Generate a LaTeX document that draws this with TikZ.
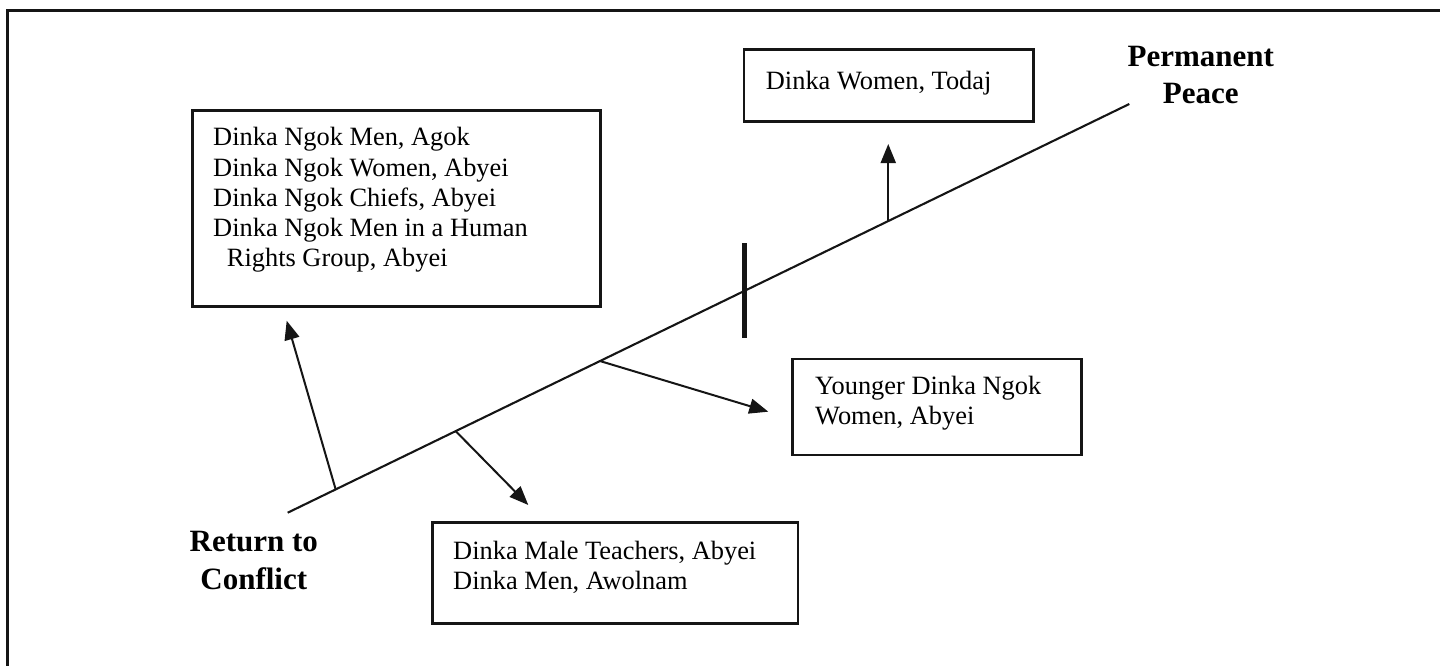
\documentclass[tikz,border=0pt]{standalone}
\usepackage{fontspec}
\setmainfont{Liberation Serif}
\usetikzlibrary{arrows.meta,calc}
\definecolor{ink}{HTML}{151515}
\begin{document}
\begin{tikzpicture}[x=1pt,y=-1pt,
  boxn/.style={draw=ink,line width=2.6pt,anchor=north west,inner sep=0pt,outer sep=0pt},
  txt/.style={anchor=base west,inner sep=0pt,font=\fontsize{26.4}{30}\selectfont},
  lbl/.style={anchor=base,inner sep=0pt,font=\fontsize{31}{37}\selectfont\bfseries},
  axis/.style={draw=ink,line width=2.1pt},
  arr/.style={draw=ink,line width=2pt,-{Triangle[length=19pt,width=15pt]}},
  bar/.style={draw=ink,line width=5.5pt}]
\useasboundingbox (0,0) rectangle (1440,666);
% outer frame (partly visible)
\draw[ink,line width=2.2pt] (7.5,666) -- (7.5,10.5) -- (1440,10.5);

% main line
\coordinate (cS) at (287.7,512.7);
\coordinate (cE) at (1129.3,104);
\draw[axis] (cS) -- (cE);

% points on the line
\coordinate (p1) at ($(cS)!0.0570!(cE)$);
\coordinate (p2) at ($(cS)!0.1996!(cE)$);
\coordinate (p3) at ($(cS)!0.3711!(cE)$);
\coordinate (pb) at ($(cS)!0.5425!(cE)$);
\coordinate (p4) at ($(cS)!0.7136!(cE)$);

% tips
\coordinate (t1) at (286.7,320.7);
\coordinate (t2) at (528.3,505);
\coordinate (t3) at (768.3,411.7);
\coordinate (t4) at ($(p4|-0,144)$);

\draw[arr] (p1) -- (t1);
\draw[arr] (p2) -- (t2);
\draw[arr] (p3) -- (t3);
\draw[arr] (p4) -- (t4);

% thick bar
\coordinate (bt) at ($(pb|-0,243.3)$);
\coordinate (bb) at ($(pb|-0,338.3)$);
\draw[bar] (bt) -- (bb);

% boxes
\node[boxn,minimum width=408pt,minimum height=196pt] (b1) at (192.7,110.7) {};
\node[boxn,minimum width=289.3pt,minimum height=72.4pt] (b2) at (744,49.3) {};
\node[boxn,minimum width=289.4pt,minimum height=96pt] (b3) at (792.3,359) {};
\node[boxn,minimum width=365.7pt,minimum height=100.6pt] (b4) at (432.3,522.7) {};

% texts of box 1
\node[txt] (b1l1) at (213,146) {Dinka Ngok Men, Agok};
\node[txt] (b1l2) at (213,176) {Dinka Ngok Women, Abyei};
\node[txt] (b1l3) at (213,206) {Dinka Ngok Chiefs, Abyei};
\node[txt] (b1l4) at (213,236.5) {Dinka Ngok Men in a Human};
\node[txt] (b1l5) at (226.7,266.5) {Rights Group, Abyei};

% box 2
\node[txt] (b2l1) at (765.7,89.5) {Dinka Women, Todaj};

% box 3
\node[txt] (b3l1) at (815,394) {Younger Dinka Ngok};
\node[txt] (b3l2) at (815,424.5) {Women, Abyei};

% box 4
\node[txt] (b4l1) at (453,559) {Dinka Male Teachers, Abyei};
\node[txt] (b4l2) at (453,589) {Dinka Men, Awolnam};

% end labels
\node[lbl] (rc1) at (253.8,551.7) {Return to};
\node[lbl] (rc2) at (253.8,589.3) {Conflict};
\node[lbl] (pp1) at (1200.8,66.7) {Permanent};
\node[lbl] (pp2) at (1200.8,103.3) {Peace};
\end{tikzpicture}
\end{document}
